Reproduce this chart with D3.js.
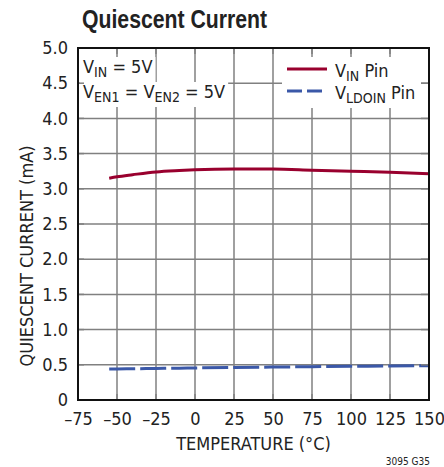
<!DOCTYPE html>
<html><head><meta charset="utf-8">
<script src="https://cdn.jsdelivr.net/npm/d3@7"></script>
<style>
body{margin:0;background:#fff;}
text{font-family:"Liberation Sans Narrow","DejaVu Sans Condensed",sans-serif;fill:#222;}
</style></head><body>
<svg id="c" width="444" height="467"></svg>
<script>
const temps = [-55, -50, -40, -25, -10, 0, 25, 50, 75, 100, 125, 150];
const vinPin = [3.15, 3.17, 3.20, 3.24, 3.26, 3.27, 3.28, 3.28, 3.265, 3.25, 3.235, 3.215];
const ldoinPin = [0.44, 0.441, 0.444, 0.448, 0.452, 0.455, 0.462, 0.468, 0.473, 0.478, 0.483, 0.487];
const xTicks = [-75, -50, -25, 0, 25, 50, 75, 100, 125, 150];
const yTicks = [0, 0.5, 1.0, 1.5, 2.0, 2.5, 3.0, 3.5, 4.0, 4.5, 5.0];

const svg = d3.select("#c");
const L = 78, R = 429, T = 48, B = 400;
const x = d3.scaleLinear().domain([-75, 150]).range([L, R]);
const y = d3.scaleLinear().domain([0, 5]).range([B, T]);

// title
svg.append("text").attr("x", 82).attr("y", 28).attr("font-size", 25).attr("font-weight", "bold")
  .attr("textLength", 185).attr("lengthAdjust", "spacingAndGlyphs")
  .style("font-family", "'Liberation Sans', sans-serif")
  .style("fill", "#222").text("Quiescent Current");

// grid
const g = svg.append("g");
g.selectAll(".vg").data(xTicks.slice(1, -1)).enter().append("line")
  .attr("x1", d => x(d)).attr("x2", d => x(d)).attr("y1", T).attr("y2", B)
  .attr("stroke", "#808080").attr("stroke-width", 1.5);
g.selectAll(".hg").data(yTicks.slice(1, -1)).enter().append("line")
  .attr("y1", d => y(d)).attr("y2", d => y(d)).attr("x1", L).attr("x2", R)
  .attr("stroke", "#808080").attr("stroke-width", 1.5);

// curves
const line = d3.line().x((d, i) => x(temps[i])).y(d => y(d)).curve(d3.curveMonotoneX);
svg.append("path").attr("d", line(vinPin)).attr("fill", "none")
  .attr("stroke", "#99002e").attr("stroke-width", 3);
svg.append("path").attr("d", line(ldoinPin)).attr("fill", "none")
  .attr("stroke", "#3b58a8").attr("stroke-width", 3).attr("stroke-dasharray", "26,5");

// annotation text with white boxes
function subText(parent, xx, yy, parts, size) {
  const t = parent.append("text").attr("x", xx).attr("y", yy).attr("font-size", size);
  parts.forEach(p => {
    const ts = t.append("tspan").text(p[0]);
    if (p[1]) ts.attr("font-size", size * 0.78).attr("dy", 4);
    else ts.attr("dy", p[2] ? -4 : 0);
  });
  return t;
}
const ann = svg.append("g");
const lines = [];
lines.push(subText(ann, 83, 73, [["V"], ["IN", true], [" = 5V", false, true]], 18));
lines.push(subText(ann, 83, 98, [["V"], ["EN1", true], [" = V", false, true], ["EN2", true], [" = 5V", false, true]], 18));
lines.forEach(t => {
  const b = t.node().getBBox();
  ann.insert("rect", "text").attr("x", b.x - 3).attr("y", b.y + 1).attr("width", b.width + 6).attr("height", b.height + 1).attr("fill", "#fff");
});

// legend
const lg = svg.append("g");
lg.append("rect").attr("x", 282).attr("y", 57).attr("width", 139).attr("height", 51).attr("fill", "#fff");
lg.append("line").attr("x1", 287).attr("x2", 327).attr("y1", 69).attr("y2", 69)
  .attr("stroke", "#99002e").attr("stroke-width", 3);
lg.append("line").attr("x1", 287).attr("x2", 327).attr("y1", 91).attr("y2", 91)
  .attr("stroke", "#3b58a8").attr("stroke-width", 3).attr("stroke-dasharray", "15,5");
subText(lg, 335, 77, [["V"], ["IN", true], [" Pin", false, true]], 18);
subText(lg, 335, 99, [["V"], ["LDOIN", true], [" Pin", false, true]], 18);

// inner ticks
const tk = svg.append("g").attr("stroke", "#808080").attr("stroke-width", 1.5);
xTicks.slice(1, -1).forEach(d => {
  tk.append("line").attr("x1", x(d)).attr("x2", x(d)).attr("y1", T).attr("y2", T + 6);
  tk.append("line").attr("x1", x(d)).attr("x2", x(d)).attr("y1", B).attr("y2", B - 6);
});
yTicks.slice(1, -1).forEach(d => {
  tk.append("line").attr("y1", y(d)).attr("y2", y(d)).attr("x1", L).attr("x2", L + 6);
  tk.append("line").attr("y1", y(d)).attr("y2", y(d)).attr("x1", R).attr("x2", R - 8);
});

// border
svg.append("rect").attr("x", L).attr("y", T).attr("width", R - L).attr("height", B - T)
  .attr("fill", "none").attr("stroke", "#111").attr("stroke-width", 2);

// axes labels
const xa = svg.append("g").attr("transform", `translate(0,${B})`)
  .call(d3.axisBottom(x).tickValues(xTicks).tickSize(0).tickPadding(12)
    .tickFormat(d => d < 0 ? "\u2013" + Math.abs(d) : d));
xa.select(".domain").remove();
xa.selectAll("text").attr("font-size", 18).style("font-family", null).attr("fill", "#222");

const ya = svg.append("g").attr("transform", `translate(${L},0)`)
  .call(d3.axisLeft(y).tickValues(yTicks).tickSize(0).tickPadding(10)
    .tickFormat(d => d === 0 ? "0" : d3.format(".1f")(d)));
ya.select(".domain").remove();
ya.selectAll("text").attr("font-size", 18).style("font-family", null).attr("fill", "#222");

svg.append("text").attr("x", (L + R) / 2).attr("y", 450).attr("text-anchor", "middle")
  .attr("font-size", 18).text("TEMPERATURE (\u00B0C)");
svg.append("text").attr("transform", "translate(33,256) rotate(-90)").attr("text-anchor", "middle")
  .attr("font-size", 18).text("QUIESCENT CURRENT (mA)");
svg.append("text").attr("x", 430).attr("y", 465).attr("text-anchor", "end")
  .attr("font-size", 10).text("3095 G35");
</script>
</body></html>
